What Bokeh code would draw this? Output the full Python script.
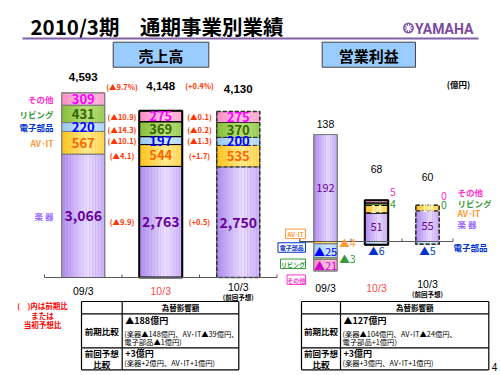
from bokeh.plotting import figure
from bokeh.models import Range1d
from bokeh.embed import file_html
from bokeh.resources import INLINE
from bokeh.core.properties import value

# ---------------- data ----------------
periods = ["09/3", "10/3", "10/3"]
period_notes = ["", "", "(前回予想)"]
segment_names = ["楽 器", "AV･IT", "電子部品", "リビング", "その他"]

sales_gakki = [3066, 2763, 2750]
sales_avit = [567, 544, 535]
sales_denshi = [220, 197, 200]
sales_living = [431, 369, 370]
sales_other = [309, 275, 275]
sales_total = [4593, 4148, 4130]
sales_total_chg = ["(▲9.7%)", "(+0.4%)"]
# segment order: 楽器, AV･IT, 電子部品, リビング, その他
sales_seg_chg_prev = ["(▲9.9)", "(▲4.1)", "(▲10.1)", "(▲14.3)", "(▲10.9)"]
sales_seg_chg_plan = ["(+0.5)", "(+1.7)", "(▲1.3)", "(▲0.2)", "(▲0.1)"]

op_gakki = [192, 51, 55]
op_avit = [-4, 14, 10]
op_denshi = [-25, -6, -5]
op_living = [-3, 4, 0]
op_other = [-21, 5, 0]
op_total = [138, 68, 60]

fx_sales_prev = ["▲188億円", "(楽器▲148億円、AV･IT▲39億円、", "電子部品▲1億円)"]
fx_sales_plan = ["+3億円", "(楽器+2億円、AV･IT+1億円)"]
fx_op_prev = ["▲127億円", "(楽器▲104億円、AV･IT▲24億円、", "電子部品+1億円)"]
fx_op_plan = ["+3億円", "(楽器+3億円、AV･IT+1億円)"]

# ---------------- styles / layout ----------------
JP = "Noto Sans CJK JP"
NUM = "Liberation Sans"
W, H = 500, 375
S_X0, S_DX, S_Y0, S_K = 44.0, 77.5, 277.0, 0.0402
P_X0, P_DX, P_Y0, P_K = 299.5, 51.0, 241.0, 0.557
EDGE = ["#B08AEE", "#FFC21A", "#96C6F4", "#86BE38", "#FF8CC6"]
MID = ["#EADFFF", "#FFEC94", "#D8EBFF", "#BCE07E", "#FFC8E3"]
INTXT = ["#660099", "#FF6600", "#0000FF", "#336600", "#FF00FF"]
LEGTXT = ["#9966FF", "#FF9933", "#0033CC", "#339933", "#FF33CC"]
BAR_LINE = [("#7F7F7F", 1, "solid"), ("#000000", 2, "solid"), ("#333333", 1.5, "4 2")]
RED = "#FF3300"

p = figure(width=W, height=H, x_range=Range1d(0, W), y_range=Range1d(H, 0),
           x_axis_type=None, y_axis_type=None, toolbar_location=None,
           output_backend="svg", min_border=0, outline_line_color=None,
           title=None, background_fill_color="white", border_fill_color="white")
p.extra_x_ranges = {"sx": Range1d(-S_X0 / S_DX, (W - S_X0) / S_DX),
                    "px": Range1d(-P_X0 / P_DX, (W - P_X0) / P_DX)}
p.extra_y_ranges = {"sy": Range1d(-(H - S_Y0) / S_K, S_Y0 / S_K),
                    "py": Range1d(-(H - P_Y0) / P_K, P_Y0 / P_K)}


def txt(x, y, s, size, color="black", align="center", bold=False, font=JP,
        xr="default", yr="default", baseline="middle"):
    p.text(x=[x], y=[y], text=[s], text_font=value(font), text_font_size=f"{size}px",
           text_color=color, text_align=align, text_baseline=baseline,
           text_font_style="bold" if bold else "normal",
           x_range_name=xr, y_range_name=yr)


def mix(c1, c2, f):
    a = [int(c1[k:k + 2], 16) for k in (1, 3, 5)]
    b = [int(c2[k:k + 2], 16) for k in (1, 3, 5)]
    return "#%02x%02x%02x" % tuple(round(a[k] + (b[k] - a[k]) * f) for k in range(3))


def profile(t):
    return t / 0.6 if t < 0.6 else 1 - (t - 0.6) / 0.4 * 0.55


def stack(cols):
    out = []
    for i in range(len(cols[0])):
        pos = neg = 0
        for s, col in enumerate(cols):
            v = col[i]
            if v >= 0:
                out.append((i, s, pos, pos + v, v))
                pos += v
            else:
                out.append((i, s, neg + v, neg, v))
                neg += v
    return out


def draw_bars(segs, width, xr, yr):
    segs = [sg for sg in segs if sg[3] != sg[2]]
    p.vbar(x=[sg[0] + 0.5 for sg in segs], width=width, bottom=[sg[2] for sg in segs],
           top=[sg[3] for sg in segs], fill_color=[EDGE[sg[1]] for sg in segs],
           line_color=None, x_range_name=xr, y_range_name=yr)
    n = 14
    xs, bs, ts, cs = [], [], [], []
    for (i, s, b, t, v) in segs:
        for j in range(n):
            tm = (j + 0.5) / n
            xs.append(i + 0.5 - width / 2 + width * tm)
            bs.append(b)
            ts.append(t)
            cs.append(mix(EDGE[s], MID[s], profile(tm)))
    p.vbar(x=xs, width=width / n, bottom=bs, top=ts, fill_color=cs, line_color=None,
           x_range_name=xr, y_range_name=yr)
    for i, (lc, lw, ld) in enumerate(BAR_LINE):
        mine = [sg for sg in segs if sg[0] == i]
        p.vbar(x=[i + 0.5] * len(mine), width=width, bottom=[sg[2] for sg in mine],
               top=[sg[3] for sg in mine], fill_color=None, line_color=lc,
               line_width=min(lw, 1), line_dash=ld, x_range_name=xr, y_range_name=yr)
        p.vbar(x=[i + 0.5], width=width, bottom=[min(sg[2] for sg in mine)],
               top=[max(sg[3] for sg in mine)], fill_color=None, line_color=lc,
               line_width=lw, line_dash=ld, x_range_name=xr, y_range_name=yr)


# ---------------- header ----------------
txt(30, 25, "2010/3期　通期事業別業績", 20.5, align="left", bold=True)
p.segment(x0=[22], y0=[38], x1=[478], y1=[38], line_color="#7F5FA8", line_width=2)
p.scatter(x=[408], y=[27.5], size=11, marker="circle", fill_color="#8A5AAE", line_color=None)
p.scatter(x=[408], y=[27.5], size=8, marker="asterisk", line_color="white", line_width=1.2)
txt(414.5, 28, "YAMAHA", 14, color="#7B4BA0", align="left", bold=True, font="Roboto")
for cx, w, label in [(160.5, 95.6, "売上高"), (368.3, 93.3, "営業利益")]:
    p.rect(x=[cx], y=[54.2], width=w, height=25, fill_color="#99CCFF",
           line_color="#404040", line_width=1)
    txt(cx, 54.5, label, 15, bold=True)
txt(458, 83, "(億円)", 8.5, bold=True)

# ---------------- sales chart ----------------
s_segs = stack([sales_gakki, sales_avit, sales_denshi, sales_living, sales_other])
draw_bars(s_segs, 0.555, "sx", "sy")
p.segment(x0=[0], y0=[0], x1=[3], y1=[0], line_color="#595959", line_width=1,
          x_range_name="sx", y_range_name="sy")
p.segment(x0=[0, 1, 2, 3], y0=[0] * 4, x1=[0, 1, 2, 3], y1=[3 / S_K] * 4,
          line_color="#595959", line_width=1, x_range_name="sx", y_range_name="sy")
for (i, s, b, t, v) in s_segs:
    sz = 14 if s == 0 else 13
    txt(i + 0.5, (b + t) / 2, f"{v:,}", sz, color=INTXT[s], bold=True, xr="sx", yr="sy")
    if i == 0:
        txt(53, (b + t) / 2, segment_names[s], 8.5, color=LEGTXT[s], align="right",
            bold=True, yr="sy")
    if i == 1:
        txt(1.0, (b + t) / 2, sales_seg_chg_prev[s], 7.5, color=RED, bold=True, xr="sx", yr="sy")
        txt(2.0, (b + t) / 2, sales_seg_chg_plan[s], 7.5, color=RED, bold=True, xr="sx", yr="sy")
for i, (tot, ty) in enumerate(zip(sales_total, [76, 85, 88])):
    txt(i + 0.5, ty, f"{tot:,}", 11.5, bold=True, font=NUM, xr="sx")
for k, (chg, ty) in enumerate(zip(sales_total_chg, [86, 85])):
    txt(k + 1.0, ty, chg, 7.5, color=RED, bold=True, xr="sx")
for i, (per, note) in enumerate(zip(periods, period_notes)):
    col = "#FF4D4D" if i == 1 else "black"
    txt(i + 0.5, 290 if not note else 286, per, 10.5, color=col, font=NUM, xr="sx")
    if note:
        txt(i + 0.5, 296, note, 6.5, bold=True, xr="sx")

# ---------------- operating income chart ----------------
o_segs = stack([op_gakki, op_avit, op_denshi, op_living, op_other])
draw_bars(o_segs, 0.46, "px", "py")
p.segment(x0=[0], y0=[0], x1=[3], y1=[0], line_color="#595959", line_width=1,
          x_range_name="px", y_range_name="py")
p.segment(x0=[1, 2, 3], y0=[0] * 3, x1=[1, 2, 3], y1=[3 / P_K] * 3,
          line_color="#595959", line_width=1, x_range_name="px", y_range_name="py")


def olab(v):
    return ("▲%d" % -v) if v < 0 else str(v)


for (i, s, b, t, v) in o_segs:
    mid = (b + t) / 2
    if i == 0:
        if abs(v) >= 10:
            txt(i + 0.5, mid, olab(v), 11, color=INTXT[s] if s != 4 else "#CC00CC", xr="px", yr="py")
        else:
            txt(i + 0.77, mid, olab(v), 10.5, color=LEGTXT[s], align="left", xr="px", yr="py")
    else:
        if s == 0:
            txt(i + 0.5, mid, olab(v), 11, color=INTXT[s], xr="px", yr="py")
        elif s == 1:
            txt(i + 0.5, mid, olab(v), 10, color="#FFF6C8", bold=True, xr="px", yr="py")
        elif s == 2:
            txt(i + 0.5, b - 11, olab(v), 10.5, color="#0033CC", xr="px", yr="py")
        elif s == 3:
            txt(i + 0.82, mid, olab(v), 10.5, color="#339933", xr="px", yr="py")
        else:
            txt(i + 0.82, mid + 17, olab(v), 10.5, color="#FF33CC", xr="px", yr="py")
for i, (tot, ty) in enumerate(zip(op_total, [123.5, 168, 176])):
    txt(i + 0.5, ty, str(tot), 10.5, font=NUM, xr="px")
for i, (per, note) in enumerate(zip(periods, period_notes)):
    col = "#FF4D4D" if i == 1 else "black"
    txt(i + 0.5, 287 if not note else 283.5, per, 10.5, color=col, font=NUM, xr="px")
    if note:
        txt(i + 0.5, 293, note, 6.5, bold=True, xr="px")

# right legend
for s, ly in [(4, 191.7), (3, 202), (1, 212.7), (0, 223.3)]:
    txt(457, ly, segment_names[s], 8.5, color=LEGTXT[s], align="left", bold=True)
txt(453, 246.7, segment_names[2], 8.5, color=LEGTXT[2], align="left", bold=True)

# callout boxes near 09/3
p.line(x=[299.3, 299.3, 313], y=[238.3, 241.5, 241.5], line_color="#404040", line_width=1)
for s, cx, cy, bw in [(1, 295, 233.3, 20), (2, 291.2, 247, 27.5), (3, 292.5, 263.3, 25), (4, 295.8, 279.2, 18.5)]:
    p.rect(x=[cx], y=[cy], width=bw, height=9.5, fill_color="white",
           line_color=LEGTXT[s], line_width=1)
    txt(cx, cy + 0.3, segment_names[s], 6, color=LEGTXT[s], bold=True)

# ---------------- notes & tables ----------------
for ny, ns in [(305, "(　)内は前期比"), (315, "または"), (324, "当初予想比")]:
    txt(42, ny, ns, 7.5, color="#FF0000", bold=True)
txt(494, 366, "4", 10, font=NUM)


def table(x0, xc, x1, prev, plan):
    ys = [301, 313.3, 347.3, 369.3]
    p.segment(x0=[x0] * 4, y0=ys, x1=[x1] * 4, y1=ys, line_color="black", line_width=1.2)
    p.segment(x0=[x0, xc, x1], y0=[ys[0]] * 3, x1=[x0, xc, x1], y1=[ys[-1]] * 3,
              line_color="black", line_width=1.2)
    c1 = (x0 + xc) / 2
    txt((xc + x1) / 2, 307.3, "為替影響額", 7.5, bold=True)
    txt(c1, 330.3, "前期比較", 8.5, bold=True)
    txt(c1, 352.5, "前回予想", 8.5, bold=True)
    txt(c1, 363.3, "比較", 8.5, bold=True)
    txt(xc + 3, 320, prev[0], 9, align="left", bold=True)
    txt(xc + 2, 333, prev[1], 7.3, align="left")
    txt(xc + 2, 341.3, prev[2], 7.3, align="left")
    txt(xc + 3, 352.5, plan[0], 9, align="left", bold=True)
    txt(xc + 2, 362.5, plan[1], 7.3, align="left")


table(81, 121.7, 238.3, fx_sales_prev, fx_sales_plan)
table(301, 340, 488.3, fx_op_prev, fx_op_plan)

open("out.html", "w").write(file_html(p, INLINE))
